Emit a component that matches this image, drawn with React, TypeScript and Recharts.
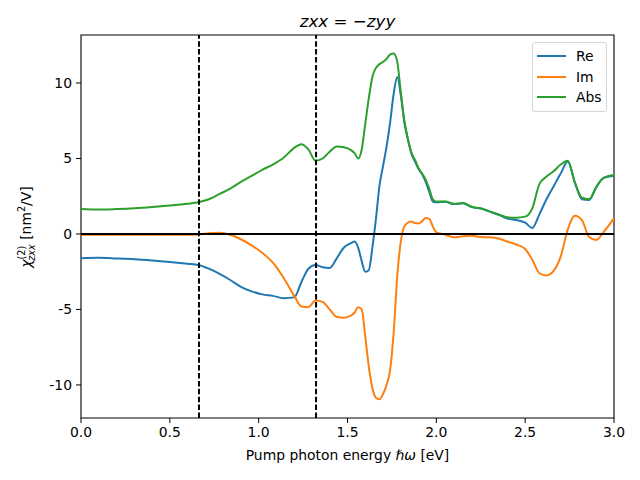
import React from 'react';
import { LineChart, Line, XAxis, YAxis, ReferenceLine, ReferenceArea } from 'recharts';

const energy = [0, 0.1, 0.2, 0.3, 0.4, 0.5, 0.6, 0.66, 0.72, 0.78, 0.84, 0.9, 0.96, 1.02, 1.08, 1.14, 1.2, 1.24, 1.28, 1.32, 1.36, 1.4, 1.44, 1.48, 1.52, 1.54, 1.56, 1.58, 1.6, 1.62, 1.64, 1.66, 1.68, 1.7, 1.72, 1.74, 1.76, 1.78, 1.8, 1.82, 1.84, 1.86, 1.88, 1.9, 1.92, 1.94, 1.96, 1.98, 2.0, 2.05, 2.1, 2.15, 2.2, 2.25, 2.3, 2.35, 2.4, 2.45, 2.5, 2.54, 2.58, 2.62, 2.66, 2.7, 2.74, 2.78, 2.82, 2.86, 2.9, 2.94, 3.0];

const reVals = [-1.6, -1.58, -1.62, -1.67, -1.75, -1.85, -1.97, -2.05, -2.3, -2.65, -3.05, -3.5, -3.8, -4.0, -4.1, -4.25, -4.2, -3.2, -2.3, -2.05, -2.2, -2.25, -1.6, -0.9, -0.6, -0.5, -0.9, -1.8, -2.5, -2.4, -0.9, 1.0, 3.2, 4.5, 5.8, 7.4, 9.3, 10.4, 9.2, 7.4, 6.25, 5.3, 4.8, 4.3, 3.95, 3.45, 2.8, 2.15, 2.1, 2.13, 1.98, 2.03, 1.78, 1.68, 1.48, 1.27, 1.02, 0.92, 0.75, 0.4, 1.3, 2.3, 3.15, 4.0, 4.8, 3.4, 2.3, 2.25, 3.1, 3.7, 3.85];

const imVals = [-0.05, -0.05, -0.05, -0.05, -0.05, -0.05, -0.05, -0.03, 0.05, 0.08, -0.05, -0.35, -0.75, -1.25, -1.9, -2.9, -4.1, -4.8, -4.85, -4.4, -4.5, -5.0, -5.5, -5.55, -5.4, -5.2, -4.85, -5.0, -6.8, -8.8, -10.2, -10.85, -10.95, -10.6, -10.0, -9.0, -6.5, -2.8, -0.5, 0.5, 0.75, 0.82, 0.72, 0.7, 0.85, 1.05, 1.0, 0.5, 0.1, -0.05, -0.22, -0.15, -0.12, -0.2, -0.22, -0.3, -0.5, -0.7, -1.0, -1.7, -2.6, -2.75, -2.45, -1.5, 0.3, 1.2, 0.9, -0.2, -0.4, 0.1, 1.05];

const absVals = [1.66, 1.62, 1.65, 1.7, 1.78, 1.88, 2.0, 2.1, 2.3, 2.65, 3.0, 3.45, 3.85, 4.25, 4.6, 5.05, 5.7, 5.95, 5.6, 4.85, 5.0, 5.45, 5.8, 5.75, 5.55, 5.35, 5.0, 5.6, 7.3, 9.0, 10.4, 11.0, 11.25, 11.4, 11.6, 11.9, 11.95, 11.4, 9.4, 7.5, 6.3, 5.4, 4.9, 4.35, 4.0, 3.6, 3.0, 2.3, 2.15, 2.15, 2.0, 2.05, 1.8, 1.7, 1.5, 1.3, 1.1, 1.08, 1.15, 1.7, 3.3, 3.8, 4.15, 4.6, 4.85, 3.4, 2.4, 2.3, 3.1, 3.7, 3.9];

const xTicks = [0, 0.5, 1.0, 1.5, 2.0, 2.5, 3.0];
const yTicks = [-10, -5, 0, 5, 10];
const markers = [0.664, 1.323];
const seriesNames = ['Re', 'Im', 'Abs'];
const seriesColors = ['#1f77b4', '#ff7f0e', '#2ca02c'];

const data = energy.map((e, i) => ({ e, re: reVals[i], im: imVals[i], abs: absVals[i] }));

const FONT = '"DejaVu Sans", sans-serif';
const Y_MIN = -12.19;
const Y_MAX = 13.18;

const LegendBox = () => (
  <div style={{ position: 'absolute', left: 532, top: 42, border: '1px solid #d6d6d6', borderRadius: 3, background: 'rgba(255,255,255,0.8)', padding: '3px 0', fontFamily: FONT, fontSize: 13.9, width: 75, boxSizing: 'border-box' }}>
    {seriesNames.map((n, i) => (
      <div key={n} style={{ display: 'flex', alignItems: 'center', height: 20.5 }}>
        <div style={{ width: 29, height: 2, background: seriesColors[i], marginLeft: 4, marginRight: 10 }} />
        <span style={{ color: '#000', lineHeight: '20px' }}>{n}</span>
      </div>
    ))}
  </div>
);

export default function App() {
  return (
    <div style={{ position: 'absolute', left: 0, top: 0, width: 640, height: 480, background: '#fff' }}>
      <LineChart width={640} height={480} data={data} margin={{ top: 35, right: 26, bottom: 0, left: 0 }}>
        <XAxis dataKey="e" type="number" domain={[0, 3]} ticks={xTicks} tickFormatter={(v: number) => v.toFixed(1)}
          height={62} tickSize={5} tickMargin={4} axisLine={false}
          tick={{ fill: '#000', fontSize: 13.9, fontFamily: FONT }} tickLine={{ stroke: '#000', strokeWidth: 1 }} />
        <YAxis type="number" domain={[Y_MIN, Y_MAX]} ticks={yTicks} width={81} tickSize={5} tickMargin={4} axisLine={false}
          allowDataOverflow
          tick={{ fill: '#000', fontSize: 13.9, fontFamily: FONT }} tickLine={{ stroke: '#000', strokeWidth: 1 }} />
        <Line type="monotone" dataKey="re" name="Re" stroke={seriesColors[0]} strokeWidth={2} dot={false} isAnimationActive={false} />
        <Line type="monotone" dataKey="im" name="Im" stroke={seriesColors[1]} strokeWidth={2} dot={false} isAnimationActive={false} />
        <Line type="monotone" dataKey="abs" name="Abs" stroke={seriesColors[2]} strokeWidth={2} dot={false} isAnimationActive={false} />
        <ReferenceLine y={0} stroke="#000" strokeWidth={2} />
        {markers.map((m) => (
          <ReferenceLine key={m} x={m} stroke="#000" strokeWidth={2} strokeDasharray="5.5 2.4" />
        ))}
        <ReferenceArea x1={0} x2={3} y1={Y_MIN} y2={Y_MAX} fill="none" stroke="#000" strokeWidth={1.1} fillOpacity={0} ifOverflow="visible" />
      </LineChart>
      <LegendBox />
      <svg width={640} height={480} style={{ position: 'absolute', left: 0, top: 0, pointerEvents: 'none' }}>
        <text x={347.5} y={27} textAnchor="middle" fontFamily={FONT} fontSize={16.7} fill="#000">
          <tspan fontStyle="italic">zxx</tspan>
          <tspan> = −</tspan>
          <tspan fontStyle="italic">zyy</tspan>
        </text>
        <text x={347.5} y={460} textAnchor="middle" fontFamily={FONT} fontSize={13.9} fill="#000">
          <tspan>Pump photon energy </tspan>
          <tspan fontStyle="italic">ℏω</tspan>
          <tspan> [eV]</tspan>
        </text>
        <text transform="rotate(-90, 31, 227)" x={31} y={227} textAnchor="middle" fontFamily={FONT} fontSize={13.9} fill="#000">
          <tspan fontStyle="italic">χ</tspan>
          <tspan fontSize={9.7} dy={-6}>(2)</tspan>
          <tspan fontSize={9.7} fontStyle="italic" dx={-15} dy={10}>zxx</tspan>
          <tspan dy={-4}> [nm</tspan>
          <tspan fontSize={9.7} dy={-6}>2</tspan>
          <tspan dy={6}>/V]</tspan>
        </text>
      </svg>
    </div>
  );
}
